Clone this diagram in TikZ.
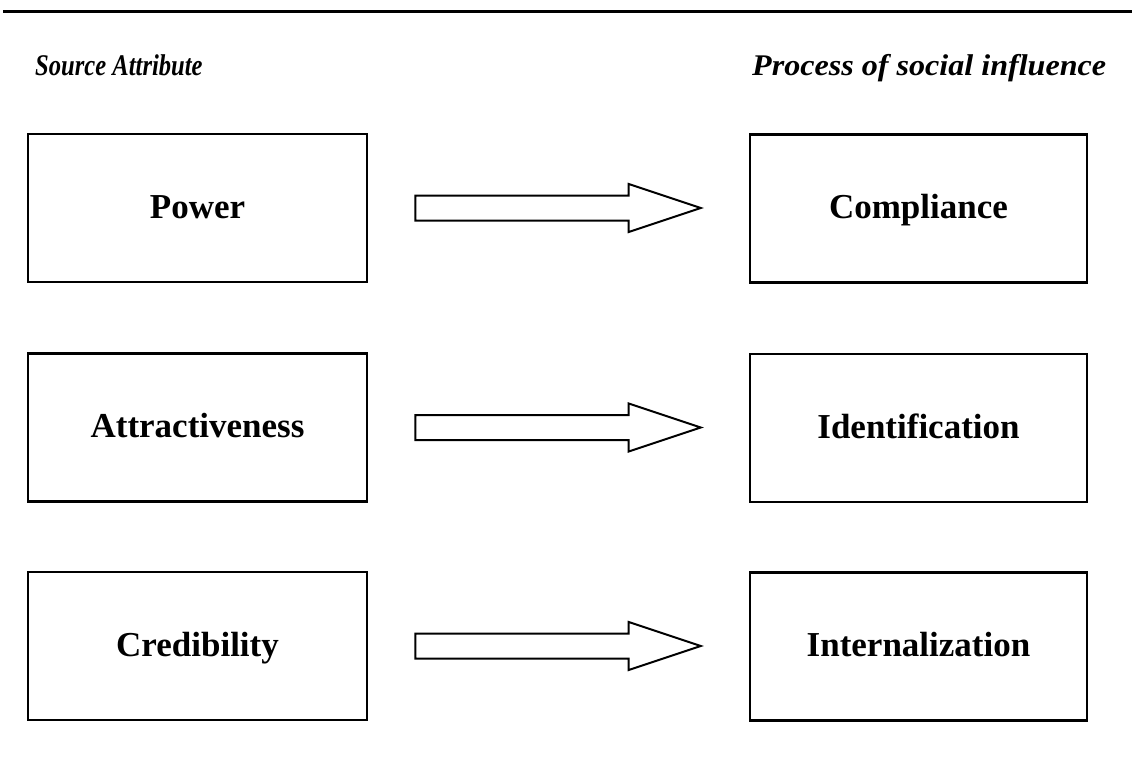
\documentclass[tikz,border=0pt]{standalone}
\usepackage{fontspec}
\usepackage{graphicx}
\setmainfont{Liberation Serif}
\usetikzlibrary{calc}

\tikzset{
  attrbox/.style={draw, line width=2.6pt, minimum width=339pt, minimum height=148pt,
    inner sep=0pt, text height=24pt, text depth=4pt,
    font=\fontsize{35}{40}\selectfont\bfseries},
  procbox/.style={attrbox, minimum width=337pt},
  heading/.style={anchor=base west, inner sep=0pt,
    font=\fontsize{30}{34}\selectfont\bfseries\itshape},
  fatarrow/.style={draw, line width=2pt, line join=miter, fill=white},
}

\begin{document}
\begin{tikzpicture}[x=1pt, y=-1pt]
  % page frame
  \useasboundingbox (0,0) rectangle (1132,765);

  % rule across the top
  \coordinate (ruleL) at (3,12);
  \coordinate (ruleR) at (1132,12);
  \draw[line width=3pt] (ruleL) -- (ruleR);

  % column headings
  \node[heading] (hsrc) at (35,76) {\scalebox{0.82}[1]{Source Attribute}};
  \node[heading] (hproc) at (752,76) {\scalebox{1.07}[1]{Process of social influence}};

  % source attributes
  \node[attrbox] (L1) at (197.5,208) {Power};
  \node[attrbox] (L2) at (197.5,427.5) {Attractiveness};
  \node[attrbox] (L3) at (197.5,646) {Credibility};

  % processes of social influence
  \node[procbox] (R1) at (918.5,208.5) {Compliance};
  \node[procbox] (R2) at (918.5,428) {Identification};
  \node[procbox] (R3) at (918.5,646.5) {Internalization};

  % block arrows from each attribute to its process
  \foreach \a/\b in {L1/R1, L2/R2, L3/R3}{
    \coordinate (s\a) at ($(\a.east)+(47,0)$);
    \coordinate (t\b) at ($(\b.west)+(-48,0)$);
    \draw[fatarrow] let \p1=(s\a), \p2=(t\b) in
      (\x1,\y1+12.5pt) -- (\x2-72pt,\y1+12.5pt) -- (\x2-72pt,\y1+24pt)
      -- (\x2,\y1) -- (\x2-72pt,\y1-24pt) -- (\x2-72pt,\y1-12.5pt)
      -- (\x1,\y1-12.5pt) -- cycle;
  }
\end{tikzpicture}
\end{document}
